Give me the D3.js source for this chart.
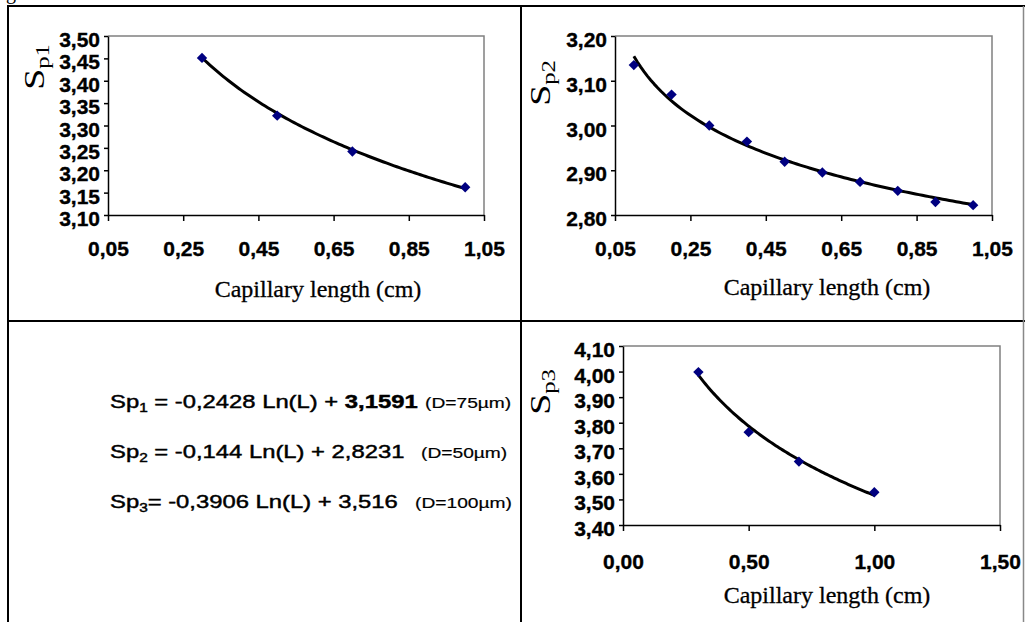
<!DOCTYPE html>
<html><head><meta charset="utf-8">
<script src="https://cdn.jsdelivr.net/npm/d3@7"></script>
<style>body{margin:0;background:#fff}svg{display:block}</style>
</head><body><svg id="c" width="1025" height="622"></svg>
<script>
// ---- data ----
const sp1Length = [0.3, 0.5, 0.7, 1.0];
const sp1Values = [3.451, 3.322, 3.242, 3.162];
const sp2Length = [0.1, 0.2, 0.3, 0.4, 0.5, 0.6, 0.7, 0.8, 0.9, 1.0];
const sp2Values = [3.135, 3.069, 3.000, 2.964, 2.919, 2.895, 2.874, 2.854, 2.829, 2.822];
const sp3Length = [0.3, 0.5, 0.7, 1.0];
const sp3Values = [3.998, 3.763, 3.648, 3.528];
// logarithmic trendlines Sp = a*Ln(L) + b (as printed on the figure)
const fitSlope = [-0.2428, -0.144, -0.3906];
const fitIntercept = [3.1591, 2.8231, 3.516];
const xTicks12 = [0.05, 0.25, 0.45, 0.65, 0.85, 1.05];
const yTicks1 = [3.10, 3.15, 3.20, 3.25, 3.30, 3.35, 3.40, 3.45, 3.50];
const yTicks2 = [2.80, 2.90, 3.00, 3.10, 3.20];
const xTicks3 = [0.00, 0.50, 1.00, 1.50];
const yTicks3 = [3.40, 3.50, 3.60, 3.70, 3.80, 3.90, 4.00, 4.10];
const yLabelSubs = ["p1", "p2", "p3"];
const xTitle = "Capillary length (cm)";
const eqSubs = ["1", "2", "3"];
const eqMid = [" = -0,2428 Ln(L) + ", " = -0,144 Ln(L) + ", "= -0,3906 Ln(L) + "];
const eqConst = ["3,1591", "2,8231", "3,516"];
const eqDiam = ["(D=75µm)", "(D=50µm)", "(D=100µm)"];

// ---- drawing ----
const svg = d3.select("#c");
const sans = "'Liberation Sans', Arial, sans-serif";
const serif = "'Liberation Serif', 'Times New Roman', serif";
const fmt = v => d3.format(".2f")(v).replace(".", ",");

// table frame
const frame = svg.append("g").attr("stroke", "#000").attr("stroke-width", 2);
frame.append("line").attr("x1", 7).attr("x2", 1025).attr("y1", 6).attr("y2", 6);
frame.append("line").attr("x1", 8).attr("x2", 8).attr("y1", 5).attr("y2", 622);
frame.append("line").attr("x1", 521).attr("x2", 521).attr("y1", 5).attr("y2", 622);
frame.append("line").attr("x1", 8).attr("x2", 1025).attr("y1", 321).attr("y2", 321);
frame.append("line").attr("x1", 1023.5).attr("x2", 1023.5).attr("y1", 6).attr("y2", 622)
  .attr("stroke", "#888").attr("stroke-width", 1.5);
svg.append("text").attr("x", 6).attr("y", -1).attr("font-family", serif)
  .attr("font-size", 20).text("g");

const panels = [
  {xs: sp1Length, ys: sp1Values, xd: [0.05, 1.05], yd: [3.10, 3.50], xt: xTicks12, yt: yTicks1,
   box: [108, 484, 36, 215], xpad: 20, titleY: 297, titleX: 318, lab: [44, 67], k: 0},
  {xs: sp2Length, ys: sp2Values, xd: [0.05, 1.05], yd: [2.80, 3.20], xt: xTicks12, yt: yTicks2,
   box: [615, 992, 36, 215], xpad: 20, titleY: 295, titleX: 827, lab: [550, 83], k: 1},
  {xs: sp3Length, ys: sp3Values, xd: [0, 1.5], yd: [3.40, 4.10], xt: xTicks3, yt: yTicks3,
   box: [623, 1000, 346, 525], xpad: 23, titleY: 603, titleX: 827, lab: [550, 392], k: 2}
];

panels.forEach(p => {
  const [x0, x1, y0, y1] = p.box;
  const x = d3.scaleLinear().domain(p.xd).range([x0, x1]);
  const y = d3.scaleLinear().domain(p.yd).range([y1, y0]);
  const g = svg.append("g");
  // gray plot frame (top/right)
  g.append("path").attr("d", `M${x0},${y0}H${x1}V${y1}`).attr("fill", "none")
    .attr("stroke", "#808080").attr("stroke-width", 1.5);
  const ax = g.append("g").attr("transform", `translate(0,${y1})`)
    .call(d3.axisBottom(x).tickValues(p.xt).tickFormat(fmt).tickSize(6).tickSizeOuter(0).tickPadding(p.xpad));
  const ay = g.append("g").attr("transform", `translate(${x0},0)`)
    .call(d3.axisLeft(y).tickValues(p.yt).tickFormat(fmt).tickSize(4).tickSizeOuter(0).tickPadding(4));
  [ax, ay].forEach(a => {
    a.select(".domain").attr("stroke", "#000").attr("stroke-width", 1.5);
    a.selectAll(".tick line").attr("stroke", "#000").attr("stroke-width", 1.5);
    a.selectAll("text").attr("font-family", sans).attr("font-size", 21)
      .attr("font-weight", "bold").attr("fill", "#000")
      .attr("stroke", "#000").attr("stroke-width", 0.35);
  });
  ay.selectAll("text").attr("dy", "0.5em");
  // trendline
  const a = fitSlope[p.k], b = fitIntercept[p.k];
  const lo = d3.min(p.xs), hi = d3.max(p.xs);
  const pts = d3.range(0, 101).map(i => lo + (hi - lo) * i / 100).map(L => [L, a * Math.log(L) + b]);
  g.append("path").datum(pts).attr("fill", "none").attr("stroke", "#000").attr("stroke-width", 3)
    .attr("stroke-linejoin", "round")
    .attr("d", d3.line().x(d => x(d[0])).y(d => y(d[1])));
  // markers
  g.selectAll("path.m").data(p.xs.map((v, i) => [v, p.ys[i]])).join("path").attr("class", "m")
    .attr("d", d3.symbol().type(d3.symbolSquare).size(54))
    .attr("transform", d => `translate(${x(d[0])},${y(d[1])}) rotate(45)`)
    .attr("fill", "#000080");
  // x title
  g.append("text").attr("x", p.titleX).attr("y", p.titleY).attr("text-anchor", "middle")
    .attr("font-family", serif).attr("font-size", 24)
    .attr("stroke", "#000").attr("stroke-width", 0.3).text(xTitle);
  // y label
  const yl = g.append("text").attr("text-anchor", "middle").attr("font-family", serif)
    .attr("transform", `translate(${p.lab[0]},${p.lab[1]}) rotate(-90) scale(1.3,1)`);
  yl.append("tspan").attr("font-size", 29).text("S");
  yl.append("tspan").attr("font-size", 19).attr("dy", 5).text(yLabelSubs[p.k]);
});

// equations
const eqY = [408, 458, 508];
const diamX = [425, 421, 415];
eqY.forEach((yy, i) => {
  const t = svg.append("text").attr("font-family", sans).attr("font-size", 18.6).attr("fill", "#000")
    .attr("stroke", "#000").attr("stroke-width", 0.45)
    .attr("transform", `translate(110,${yy}) scale(1.28,1)`);
  t.append("tspan").text("Sp");
  t.append("tspan").attr("font-size", 12).attr("dy", 4).text(eqSubs[i]);
  t.append("tspan").attr("dy", -4).text(eqMid[i]);
  t.append("tspan").attr("font-weight", i === 0 ? "bold" : "normal").text(eqConst[i]);
  svg.append("text").attr("font-family", sans).attr("font-size", 15).attr("fill", "#000")
    .attr("stroke", "#000").attr("stroke-width", 0.2)
    .attr("transform", `translate(${diamX[i]},${yy}) scale(1.28,1)`).text(eqDiam[i]);
});
</script></body></html>
